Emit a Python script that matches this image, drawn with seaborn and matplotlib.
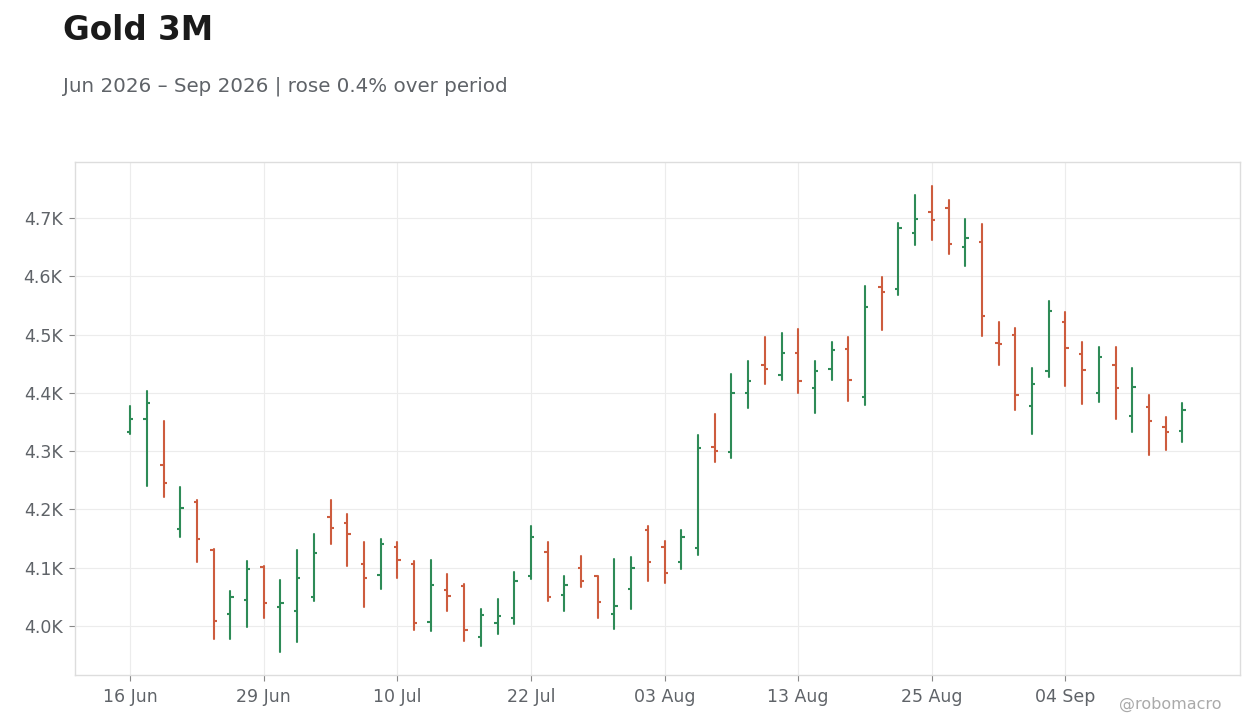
import matplotlib
matplotlib.use("Agg")
import matplotlib.pyplot as plt
import matplotlib.ticker as mticker
import seaborn as sns
import pandas as pd
import numpy as np

# ---- data -------------------------------------------------------------
dates = [
    "2026-06-16", "2026-06-17", "2026-06-18", "2026-06-22", "2026-06-23", "2026-06-24",
    "2026-06-25", "2026-06-26", "2026-06-29", "2026-06-30",
    "2026-07-01", "2026-07-02", "2026-07-06", "2026-07-07", "2026-07-08", "2026-07-09",
    "2026-07-10", "2026-07-13", "2026-07-14", "2026-07-15", "2026-07-16", "2026-07-17",
    "2026-07-20", "2026-07-21", "2026-07-22", "2026-07-23", "2026-07-24", "2026-07-27",
    "2026-07-28", "2026-07-29", "2026-07-30", "2026-07-31",
    "2026-08-03", "2026-08-04", "2026-08-05", "2026-08-06", "2026-08-07", "2026-08-10",
    "2026-08-11", "2026-08-12", "2026-08-13", "2026-08-14", "2026-08-17", "2026-08-18",
    "2026-08-19", "2026-08-20", "2026-08-21", "2026-08-24", "2026-08-25", "2026-08-26",
    "2026-08-27", "2026-08-28", "2026-08-31",
    "2026-09-01", "2026-09-02", "2026-09-03", "2026-09-04", "2026-09-08", "2026-09-09",
    "2026-09-10", "2026-09-11", "2026-09-14", "2026-09-15", "2026-09-16",
]

opens = [4332, 4355, 4277, 4166, 4212, 4131, 4020, 4045, 4102, 4033,
         4026, 4050, 4187, 4177, 4107, 4088, 4136, 4107, 4007, 4061,
         4069, 3982, 4006, 4013, 4086, 4127, 4054, 4099, 4085, 4020,
         4063, 4165, 4136, 4110, 4134, 4307, 4299, 4400, 4448, 4431,
         4469, 4409, 4441, 4475, 4393, 4581, 4579, 4675, 4711, 4717,
         4651, 4658, 4485, 4500, 4377, 4437, 4521, 4466, 4400, 4447,
         4360, 4376, 4341, 4334]
highs = [4378, 4404, 4351, 4239, 4217, 4132, 4060, 4112, 4103, 4079,
         4130, 4158, 4216, 4192, 4144, 4149, 4144, 4111, 4113, 4089,
         4072, 4029, 4046, 4093, 4171, 4144, 4086, 4120, 4086, 4115,
         4118, 4171, 4146, 4165, 4327, 4363, 4432, 4454, 4495, 4502,
         4509, 4454, 4487, 4495, 4584, 4598, 4692, 4740, 4755, 4731,
         4699, 4689, 4522, 4511, 4443, 4558, 4538, 4488, 4478, 4479,
         4443, 4396, 4359, 4382]
lows = [4330, 4240, 4222, 4152, 4109, 3977, 3977, 3999, 4013, 3956,
        3973, 4043, 4141, 4103, 4033, 4064, 4083, 3994, 3992, 4025,
        3975, 3965, 3987, 4004, 4081, 4043, 4025, 4067, 4013, 3995,
        4030, 4078, 4074, 4098, 4122, 4282, 4289, 4374, 4415, 4422,
        4400, 4366, 4422, 4386, 4379, 4507, 4567, 4653, 4662, 4639,
        4617, 4497, 4447, 4371, 4329, 4427, 4411, 4381, 4384, 4355,
        4333, 4293, 4302, 4316]
closes = [4356, 4382, 4246, 4203, 4150, 4009, 4049, 4097, 4040, 4040,
          4083, 4126, 4169, 4158, 4083, 4141, 4114, 4006, 4071, 4052,
          3994, 4019, 4017, 4077, 4153, 4050, 4071, 4077, 4041, 4035,
          4100, 4109, 4091, 4153, 4306, 4301, 4400, 4421, 4441, 4469,
          4421, 4438, 4474, 4422, 4547, 4573, 4682, 4699, 4696, 4655,
          4665, 4531, 4483, 4397, 4415, 4540, 4477, 4439, 4461, 4408,
          4410, 4352, 4333, 4370]

title = "Gold 3M"
subtitle = "Jun 2026 \u2013 Sep 2026 | rose 0.4% over period"
credit = "@robomacro"

UP = "#2e8b57"
DOWN = "#cd5c3e"

# ---- frame ---------------------------------------------------------------
sns.set_theme(style="whitegrid")
plt.rcParams["font.family"] = ["DejaVu Sans"]

df = pd.DataFrame({"date": pd.to_datetime(dates), "open": opens, "high": highs,
                   "low": lows, "close": closes})
df["idx"] = np.arange(len(df))
df["dir"] = np.where(df["close"] >= df["open"], "up", "down")

long = pd.concat([
    df[["idx", "dir"]].assign(price=df["low"]),
    df[["idx", "dir"]].assign(price=df["high"]),
]).sort_values("idx", kind="stable")

fig = plt.figure(figsize=(12.6, 7.28), dpi=100)
ax = fig.add_axes([75 / 1260, 1 - 675 / 728, (1240 - 75) / 1260, (675 - 162) / 728])

sns.lineplot(data=long, x="idx", y="price", hue="dir", units="idx", estimator=None,
             sort=False, palette={"up": UP, "down": DOWN}, linewidth=1.5,
             legend=False, ax=ax)

cols = [UP if d == "up" else DOWN for d in df["dir"]]
tick_w = 0.2
ax.hlines(df["open"], df["idx"] - tick_w, df["idx"], colors=cols, linewidth=1.5)
ax.hlines(df["close"], df["idx"], df["idx"] + tick_w, colors=cols, linewidth=1.5)

ax.set_xlim(-3.3, 66.45)
ax.set_ylim(3916, 4796)

tick_pos = list(range(0, len(df), 8))
ax.set_xticks(tick_pos)
ax.set_xticklabels([df["date"][i].strftime("%d %b") for i in tick_pos])
ax.yaxis.set_major_locator(mticker.MultipleLocator(100))
ax.yaxis.set_major_formatter(mticker.FuncFormatter(lambda v, p: f"{v/1000:.1f}K"))

ax.set_xlabel("")
ax.set_ylabel("")
ax.grid(True, color="#ececec", linewidth=0.8)
for s in ax.spines.values():
    s.set_color("#dddddd")
    s.set_linewidth(1.0)
ax.tick_params(axis="both", which="major", length=4, width=0.8, color="#888888",
               labelsize=12.5, labelcolor="#5f6368", pad=5, bottom=True, left=True)

fig.text(63 / 1260, 1 - 40 / 728, title, fontsize=23.5, fontweight="bold",
         color="#1a1a1a", va="baseline", ha="left")
fig.text(63 / 1260, 1 - 92 / 728, subtitle, fontsize=14.35, color="#5f6368",
         va="baseline", ha="left")
fig.text(1222 / 1260, 1 - 709 / 728, credit, fontsize=11.5, color="#aaaaaa",
         va="baseline", ha="right")

fig.savefig("out.png", dpi=100)
